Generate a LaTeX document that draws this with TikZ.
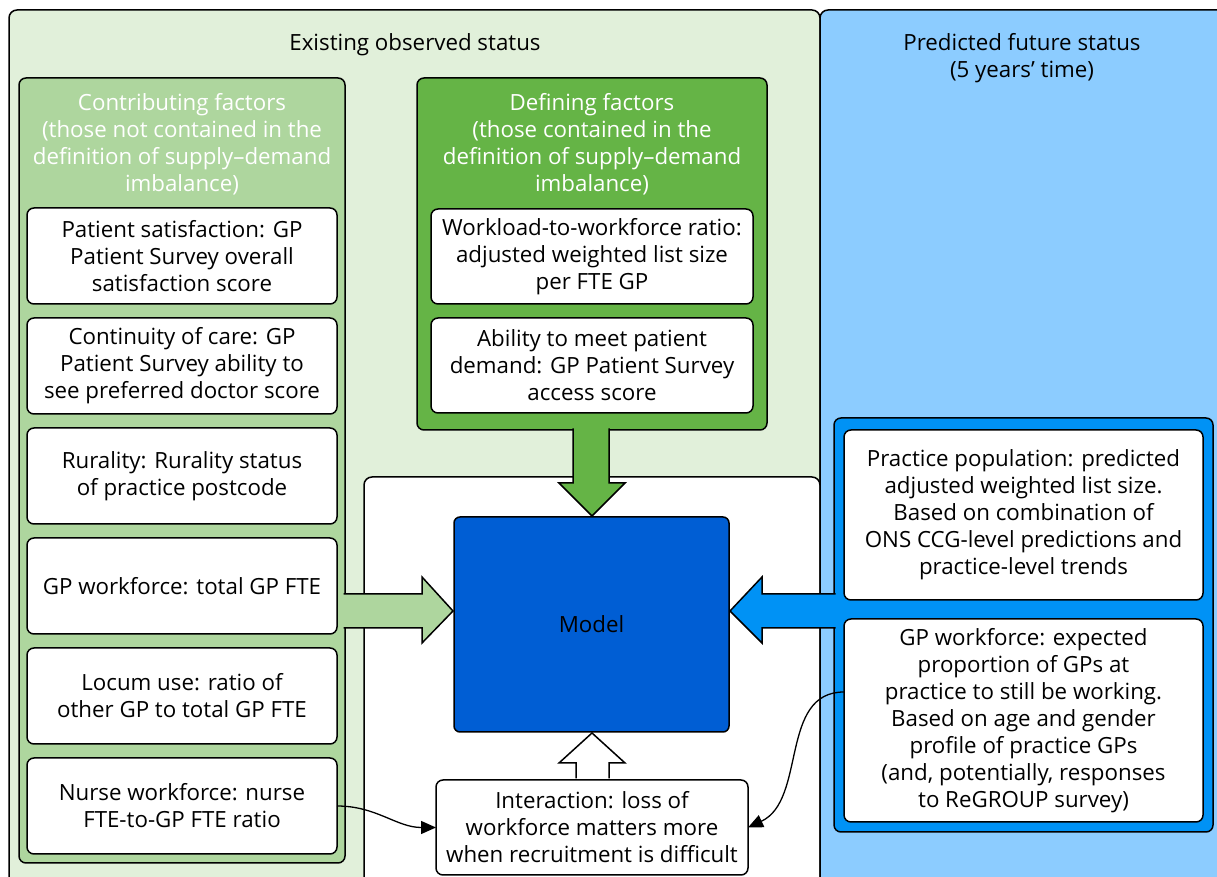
\documentclass[tikz,border=0pt]{standalone}
\usepackage{fontspec}
\setmainfont{Open Sans}
\usepackage{tikz}
\definecolor{palegreen}{RGB}{225,240,218}
\definecolor{midgreen}{RGB}{174,214,158}
\definecolor{darkgreen}{RGB}{101,180,70}
\definecolor{skyblue}{RGB}{140,204,255}
\definecolor{brightblue}{RGB}{0,146,245}
\definecolor{modelblue}{RGB}{0,94,212}
\usetikzlibrary{arrows.meta,positioning,calc}
\tikzset{
    region/.style={draw=black, line width=1.5pt, rounded corners=8pt},
    group/.style={rectangle, draw=black, line width=1.5pt, rounded corners=7pt, inner sep=0pt, outer sep=0pt},
    factor/.style={rectangle, draw=black, fill=white, line width=1.5pt, rounded corners=7pt, align=center, inner sep=0pt, outer sep=0pt},
    leftfactor/.style={factor, minimum width=310pt, minimum height=96pt},
    heading/.style={align=center, text=white},
    blockarrow/.style={draw=black, line width=1.5pt, line join=miter},
    link/.style={-{Triangle[length=15pt,width=13pt]}, line width=1.3pt},
}

\begin{document}
\begin{tikzpicture}[x=1pt, y=1pt, every node/.style={font=\fontsize{22.3}{27}\selectfont}]
    \useasboundingbox (0,0) rectangle (1217,877);
    \clip (0,0) rectangle (1217,877);

    % Backgrounds
    \draw[region, fill=palegreen] (9,867) rectangle (820,-20);
    \draw[region, fill=white] (364,400) rectangle (820,-20);
    \draw[region, fill=skyblue] (820,867) rectangle (1240,-20);
    \node (existing) at (415,832) {Existing observed status};
    \node[align=center] (predicted) at (1022,819) {Predicted future status\\(5 years' time)};

    % Contributing factors
    \node[group, fill=midgreen, minimum width=326pt, minimum height=785pt] (contrib) at (182,406.5) {};
    \node[heading] (contribhead) at (182,732.5) {Contributing factors\\(those not contained in the\\definition of supply--demand\\imbalance)};
    \node[leftfactor] (satisfaction) at (182,621) {Patient satisfaction: GP\\Patient Survey overall\\satisfaction score};
    \node[leftfactor, below=14pt of satisfaction] (continuity) {Continuity of care: GP\\Patient Survey ability to\\see preferred doctor score};
    \node[leftfactor, below=14pt of continuity] (rurality) {Rurality: Rurality status\\of practice postcode};
    \node[leftfactor, below=14pt of rurality] (gpfte) {GP workforce: total GP FTE};
    \node[leftfactor, below=14pt of gpfte] (locum) {Locum use: ratio of\\other GP to total GP FTE};
    \node[leftfactor, below=14pt of locum] (nurse) {Nurse workforce: nurse\\FTE-to-GP FTE ratio};

    % Defining factors
    \node[group, fill=darkgreen, minimum width=350pt, minimum height=352pt] (defining) at (592,623) {};
    \node[heading] (defininghead) at (592,732.5) {Defining factors\\(those contained in the\\definition of supply--demand\\imbalance)};
    \node[factor, minimum width=322pt, minimum height=95pt] (workload) at (592,620.5) {Workload-to-workforce ratio:\\adjusted weighted list size\\per FTE GP};
    \node[factor, minimum width=322pt, minimum height=95pt, below=14pt of workload] (access) {Ability to meet patient\\demand: GP Patient Survey\\access score};

    % Model and interaction
    \node[group, fill=modelblue, minimum width=275pt, minimum height=215pt, rounded corners=6pt] (model) at (591.5,252.5) {Model};
    \node[factor, minimum width=312pt, minimum height=95pt] (interaction) at (592,49.5) {Interaction: loss of\\workforce matters more\\when recruitment is difficult};

    % Predicted future status
    \node[group, fill=brightblue, minimum width=379pt, minimum height=414pt] (future) at (1023.5,252) {};
    \node[factor, minimum width=359pt, minimum height=170pt] (population) at (1023.5,362) {Practice population: predicted\\adjusted weighted list size.\\Based on combination of\\ONS CCG-level predictions and\\practice-level trends};
    \node[factor, minimum width=359pt, minimum height=203pt] (retention) at (1023.5,156.5) {GP workforce: expected\\proportion of GPs at\\practice to still be working.\\Based on age and gender\\profile of practice GPs\\(and, potentially, responses\\to ReGROUP survey)};

    % Block arrows into the model
    \filldraw[blockarrow, fill=midgreen] (343.5,283) -- (422,283) -- (422,300) -- (453,266) -- (422,234) -- (422,249) -- (343.5,249);
    \filldraw[blockarrow, fill=darkgreen] (573,448.5) -- (573,394) -- (559,394) -- (592,361) -- (625,394) -- (609,394) -- (609,448.5);
    \filldraw[blockarrow, fill=brightblue] (835.5,283) -- (762,283) -- (762,300) -- (730,266) -- (762,234) -- (762,249) -- (835.5,249);
    \filldraw[blockarrow, fill=white] (576,98.5) -- (576,114) -- (559,114) -- (592,144) -- (625,114) -- (609,114) -- (609,98.5);

    % Links to the interaction
    \draw[link] (nurse.east) to[out=0, in=180] (interaction.west);
    \draw[link] ($(retention.west)+(0,28.5)$) to[out=180, in=25] (interaction.east);
\end{tikzpicture}
\end{document}
